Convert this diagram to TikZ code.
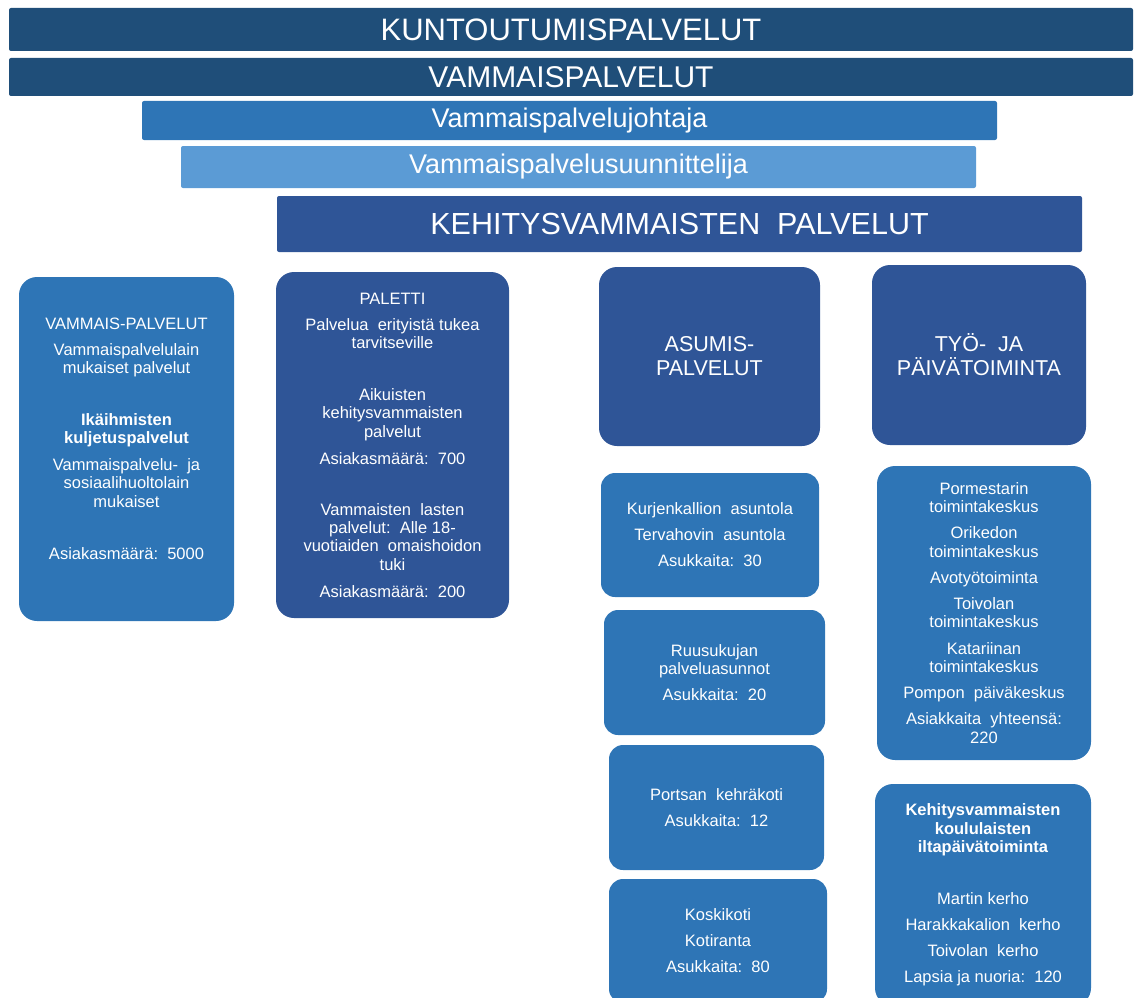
\documentclass[tikz,border=0pt]{standalone}
\usepackage{fontspec}
\setmainfont{Liberation Sans}
\definecolor{navy}{RGB}{31,78,121}
\definecolor{midblue}{RGB}{46,117,182}
\definecolor{lightblue}{RGB}{91,155,213}
\definecolor{darkblue}{RGB}{47,85,151}

\begin{document}
\begin{tikzpicture}[x=1pt,y=-1pt,
  bar/.style={rectangle,fill=#1,text=white,inner sep=0pt,rounded corners=2pt},
  unit/.style={rectangle,fill=#1,text=white,inner sep=0pt,align=center,
    rounded corners=18pt,font=\fontsize{16.5}{18.3}\selectfont},
  head/.style={unit=#1,font=\fontsize{21.5}{24}\selectfont}]
  \useasboundingbox (0,0) rectangle (1136,998);

  % bars across the top
  \draw (571,29.5) node[bar=navy,minimum width=1124,minimum height=43,
    font=\fontsize{31}{36}\selectfont] (kunto) {KUNTOUTUMISPALVELUT};
  \draw (571,77) node[bar=navy,minimum width=1124,minimum height=38,
    font=\fontsize{30}{36}\selectfont] (vammais) {VAMMAISPALVELUT};
  \draw (569.5,120.5) node[bar=midblue,minimum width=855,minimum height=39,
    font=\fontsize{27}{32}\selectfont] (johtaja) {Vammaispalvelujohtaja};
  \draw (578.5,167) node[bar=lightblue,minimum width=795,minimum height=42,
    font=\fontsize{27}{32}\selectfont] (suunn) {Vammaispalvelusuunnittelija};
  \draw (679.5,224) node[bar=darkblue,minimum width=805,minimum height=56,
    font=\fontsize{30.5}{36}\selectfont] (kehitys) {KEHITYSVAMMAISTEN\ \ PALVELUT};

  % left columns
  \draw (126.5,449) node[unit=midblue,minimum width=215,minimum height=344] (vpalv)
    {VAMMAIS-PALVELUT\\[7.7pt]
     Vammaispalvelulain\\ mukaiset palvelut\\[33.7pt]
     \textbf{Ikäihmisten}\\ \textbf{kuljetuspalvelut}\\[8.7pt]
     Vammaispalvelu-\ \ ja\\ sosiaalihuoltolain\\ mukaiset\\[33.7pt]
     Asiakasmäärä:\ \ 5000\\[3pt]\mbox{}};
  \draw (392.5,445) node[unit=darkblue,minimum width=233,minimum height=346] (paletti)
    {PALETTI\\[7.7pt]
     Palvelua\ \ erityistä tukea\\ tarvitseville\\[33.7pt]
     Aikuisten\\ kehitysvammaisten\\ palvelut\\[8.7pt]
     Asiakasmäärä:\ \ 700\\[32.7pt]
     Vammaisten\ \ lasten\\ palvelut:\ \ Alle 18-\\ vuotiaiden\ \ omaishoidon\\ tuki\\[8.7pt]
     Asiakasmäärä:\ \ 200};

  % housing column
  \draw (709.5,356.5) node[head=darkblue,minimum width=221,minimum height=179] (asumis)
    {ASUMIS-\\PALVELUT};
  \draw (710,535) node[unit=midblue,minimum width=218,minimum height=124,
    rounded corners=14pt] (kurjen)
    {Kurjenkallion\ \ asuntola\\[7.7pt]Tervahovin\ \ asuntola\\[7.7pt]Asukkaita:\ \ 30};
  \draw (714.5,672.5) node[unit=midblue,minimum width=221,minimum height=125,
    rounded corners=14pt] (ruusu)
    {Ruusukujan\\palveluasunnot\\[7.7pt]Asukkaita:\ \ 20};
  \draw (716.5,807.5) node[unit=midblue,minimum width=215,minimum height=125,
    rounded corners=14pt] (portsan)
    {Portsan\ \ kehräkoti\\[7.7pt]Asukkaita:\ \ 12};
  \draw (718,941) node[unit=midblue,minimum width=218,minimum height=124,
    rounded corners=14pt] (koski)
    {Koskikoti\\[7.7pt]Kotiranta\\[7.7pt]Asukkaita:\ \ 80};

  % work and day activity column
  \draw (979,355) node[head=darkblue,minimum width=214,minimum height=180] (tyo)
    {TYÖ-\ \ JA\\PÄIVÄTOIMINTA};
  \draw (984,613) node[unit=midblue,minimum width=214,minimum height=294] (pormest)
    {Pormestarin\\toimintakeskus\\[7.7pt]
     Orikedon\\toimintakeskus\\[7.7pt]
     Avotyötoiminta\\[7.7pt]
     Toivolan\\toimintakeskus\\[8.7pt]
     Katariinan\\toimintakeskus\\[7.7pt]
     Pompon\ \ päiväkeskus\\[7.7pt]
     Asiakkaita\ \ yhteensä:\\220};
  \draw (983,895) node[unit=midblue,minimum width=216,minimum height=222] (koulu)
    {\textbf{Kehitysvammaisten}\\ \textbf{koululaisten}\\ \textbf{iltapäivätoiminta}\\[33.7pt]
     Martin kerho\\[7.7pt]Harakkakalion\ \ kerho\\[7.7pt]Toivolan\ \ kerho\\[7.7pt]
     Lapsia ja nuoria:\ \ 120};
\end{tikzpicture}
\end{document}
